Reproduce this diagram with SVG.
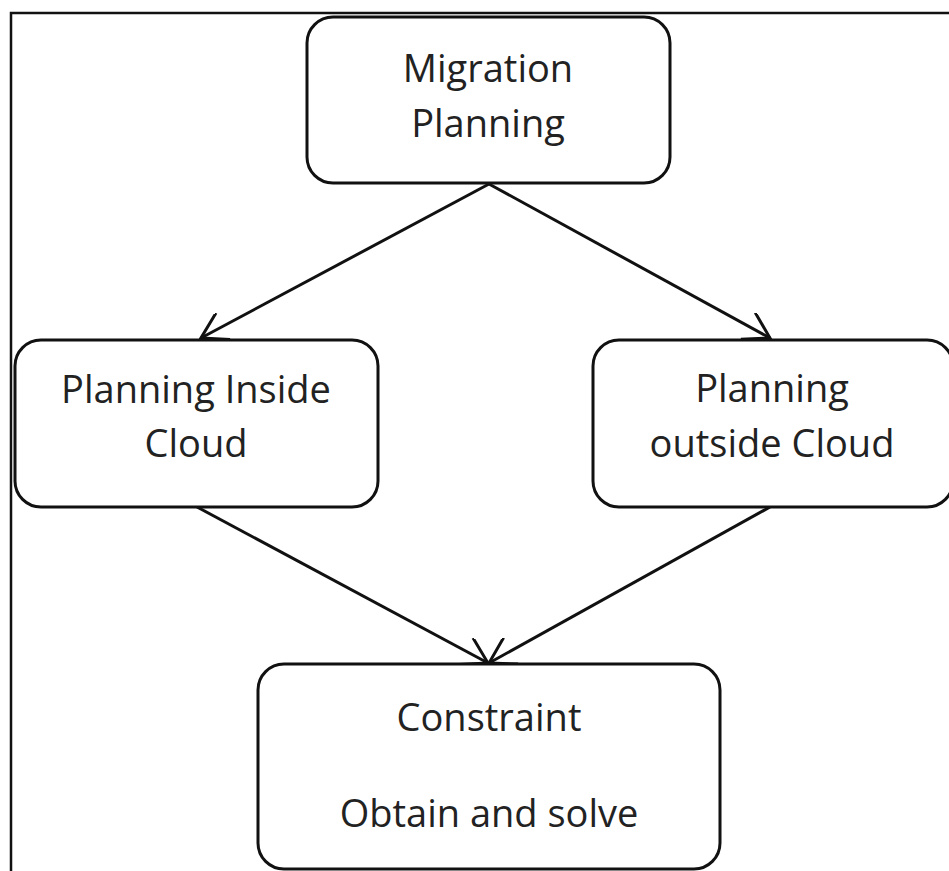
<svg xmlns="http://www.w3.org/2000/svg" width="949" height="871" viewBox="0 0 949 871">
<defs>
<style>
.box{fill:#fff;stroke:#111;stroke-width:3}
.t{font-family:"Open Sans","Liberation Sans",sans-serif;font-size:38px;fill:#222;text-anchor:middle}
.c{stroke:#111;stroke-width:3;fill:none}
</style>
<marker id="arr" viewBox="0 0 30 30" refX="28" refY="15" markerWidth="30" markerHeight="30" markerUnits="userSpaceOnUse" orient="auto">
<path d="M3,0 L28,15 L3,30" fill="none" stroke="#111" stroke-width="3"/>
</marker>
</defs>
<rect width="949" height="871" fill="#fff"/>
<path d="M11,871 V13 H949" fill="none" stroke="#111" stroke-width="2.5"/>
<g id="connectors">
<line class="c" x1="489" y1="184" x2="201" y2="338" marker-end="url(#arr)"/>
<line class="c" x1="489" y1="184" x2="770" y2="338" marker-end="url(#arr)"/>
<line class="c" x1="197" y1="507" x2="488" y2="663" marker-end="url(#arr)"/>
<line class="c" x1="770" y1="507" x2="489" y2="663" marker-end="url(#arr)"/>
</g>
<g id="n1">
<rect class="box" x="307" y="17" width="363" height="166" rx="26"/>
<text class="t" x="488" y="82">Migration</text>
<text class="t" x="488" y="137">Planning</text>
</g>
<g id="n2">
<rect class="box" x="15" y="340" width="363" height="167" rx="26"/>
<text class="t" x="196" y="403">Planning Inside</text>
<text class="t" x="196" y="457">Cloud</text>
</g>
<g id="n3">
<rect class="box" x="593" y="340" width="360" height="167" rx="26"/>
<text class="t" x="772" y="402">Planning</text>
<text class="t" x="772" y="457">outside Cloud</text>
</g>
<g id="n4">
<rect class="box" x="258" y="664" width="462" height="205" rx="26"/>
<text class="t" x="489" y="731">Constraint</text>
<text class="t" x="489" y="827">Obtain and solve</text>
</g>
</svg>
